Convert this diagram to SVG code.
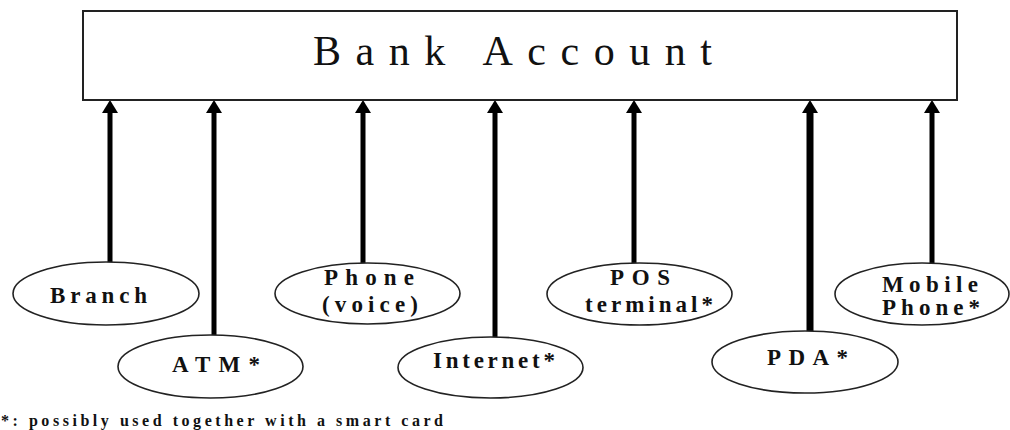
<svg xmlns="http://www.w3.org/2000/svg" width="1010" height="430" viewBox="0 0 1010 430">
<style>
.box{fill:#fff;stroke:#222;stroke-width:2}
.ell{fill:#fff;stroke:#222;stroke-width:1.6}
.lbl{font-family:"Liberation Serif","Times New Roman",serif;font-size:23px;font-weight:bold;fill:#111;text-anchor:start}
.title{font-family:"Liberation Serif","Times New Roman",serif;font-size:42px;fill:#111}
.note{font-family:"Liberation Serif","Times New Roman",serif;font-size:16px;font-weight:bold;fill:#111}
.conn{stroke:#000;stroke-width:5;fill:none;marker-end:url(#ah)}
</style>
<defs>
<marker id="ah" markerUnits="userSpaceOnUse" viewBox="0 -9 14 18" refX="0" refY="0" markerWidth="14" markerHeight="18" orient="auto">
<path d="M0,-8 L13,0 L0,8 z" fill="#000"/>
</marker>
</defs>
<rect width="1010" height="430" fill="#fff"/>
<g id="connectors">
<line class="conn" x1="110" y1="262" x2="110" y2="113"/>
<line class="conn" x1="214" y1="335" x2="214" y2="113"/>
<line class="conn" x1="363" y1="263" x2="363" y2="113"/>
<line class="conn" x1="495" y1="337" x2="495" y2="113"/>
<line class="conn" x1="634" y1="263" x2="634" y2="113"/>
<line class="conn" x1="810" y1="331" x2="810" y2="113" style="stroke-width:7"/>
<line class="conn" x1="932" y1="263" x2="932" y2="113"/>
</g>
<g id="bank-account">
<rect class="box" x="83" y="11" width="874" height="89"/>
<text class="title" x="313" y="65" textLength="399" lengthAdjust="spacing">Bank Account</text>
</g>
<g id="branch">
<ellipse class="ell" cx="106" cy="293.5" rx="93" ry="31.5"/>
<text class="lbl" x="50" y="303" textLength="97" lengthAdjust="spacing">Branch</text>
</g>
<g id="atm">
<ellipse class="ell" cx="210.5" cy="366.5" rx="92.5" ry="31.5"/>
<text class="lbl" x="172" y="372" textLength="88" lengthAdjust="spacing">ATM*</text>
</g>
<g id="phone-voice">
<ellipse class="ell" cx="367.5" cy="293.5" rx="92.5" ry="30.5"/>
<text class="lbl" x="324" y="285" textLength="90" lengthAdjust="spacing">Phone</text>
<text class="lbl" x="322" y="312" textLength="96" lengthAdjust="spacing">(voice)</text>
</g>
<g id="internet">
<ellipse class="ell" cx="490.5" cy="367.5" rx="92.5" ry="30.5"/>
<text class="lbl" x="433" y="368" textLength="122" lengthAdjust="spacing">Internet*</text>
</g>
<g id="pos-terminal">
<ellipse class="ell" cx="639.5" cy="294" rx="92.5" ry="31"/>
<text class="lbl" x="610" y="285" textLength="60" lengthAdjust="spacing">POS</text>
<text class="lbl" x="585" y="312" textLength="128" lengthAdjust="spacing">terminal*</text>
</g>
<g id="pda">
<ellipse class="ell" cx="805" cy="362" rx="93" ry="31"/>
<text class="lbl" x="767" y="365" textLength="81" lengthAdjust="spacing">PDA*</text>
</g>
<g id="mobile-phone">
<ellipse class="ell" cx="922" cy="294" rx="87" ry="31"/>
<text class="lbl" x="882" y="292" textLength="96" lengthAdjust="spacing">Mobile</text>
<text class="lbl" x="882" y="315" textLength="98" lengthAdjust="spacing">Phone*</text>
</g>
<text class="note" x="1" y="426" textLength="442" lengthAdjust="spacing">*: possibly used together with a smart card</text>
</svg>
